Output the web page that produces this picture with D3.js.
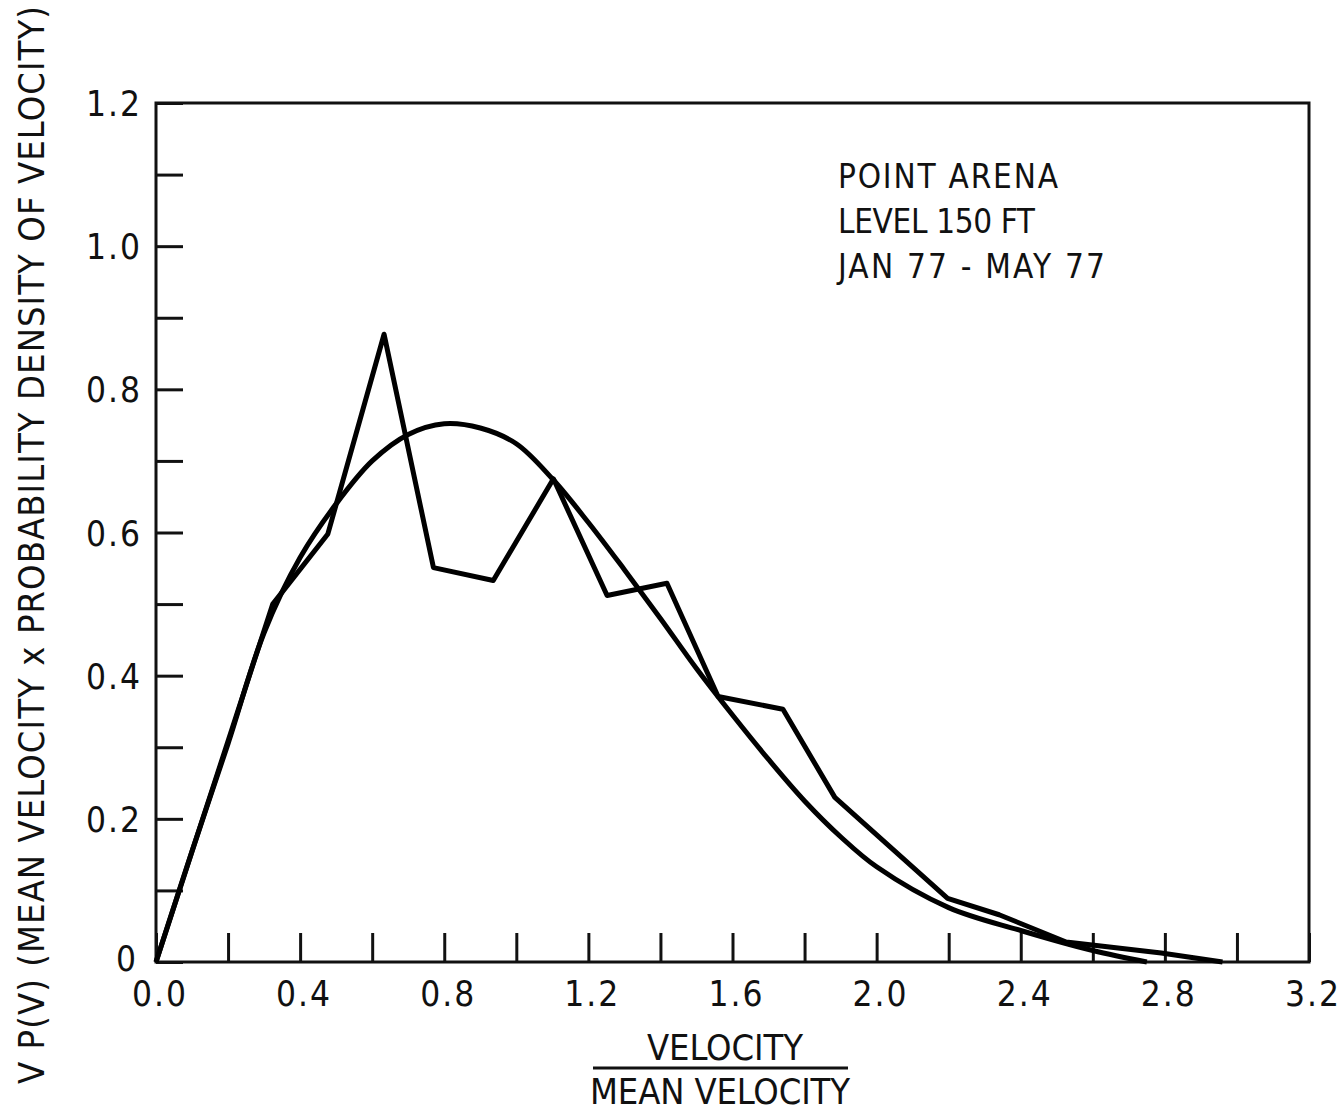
<!DOCTYPE html>
<html>
<head>
<meta charset="utf-8">
<script src="https://cdn.jsdelivr.net/npm/d3@7"></script>
<style>
  body { margin: 0; background: #fff; }
  svg text { font-family: "DejaVu Sans Condensed", "DejaVu Sans", sans-serif; fill: #111; }
</style>
</head>
<body>
<div id="svgContainer"></div>
<script>
// measured distribution (velocity / mean velocity, V P(V))
var obsX = [0, 0.324, 0.477, 0.633, 0.77, 0.936, 1.103, 1.252, 1.418, 1.56, 1.74, 1.884, 2.197, 2.34, 2.526, 2.79, 2.96]
var obsY = [0, 0.50, 0.598, 0.877, 0.551, 0.533, 0.675, 0.512, 0.529, 0.371, 0.353, 0.23, 0.089, 0.066, 0.028, 0.0125, 0]

// fitted curve
var fitX = [0, 0.1, 0.2, 0.3, 0.4, 0.5, 0.6, 0.7, 0.8, 0.9, 1.0, 1.1, 1.2, 1.3, 1.4, 1.5, 1.6, 1.7, 1.8, 1.9, 2.0, 2.2, 2.4, 2.6, 2.75]
var fitY = [0, 0.155, 0.305, 0.46, 0.565, 0.64, 0.70, 0.737, 0.752, 0.746, 0.724, 0.675, 0.614, 0.548, 0.48, 0.41, 0.345, 0.283, 0.225, 0.175, 0.133, 0.076, 0.044, 0.016, 0]

var xTickLabels = ["0.0", "0.4", "0.8", "1.2", "1.6", "2.0", "2.4", "2.8", "3.2"]
var yTickLabels = ["0", "0.2", "0.4", "0.6", "0.8", "1.0", "1.2"]
var noteLines = ["POINT ARENA", "LEVEL 150 FT", "JAN 77 - MAY 77"]
var noteWidths = [220, 197, 267]

function drawChart() {
    let width = 1344, height = 1112;
    var margin = { top: 103, right: 35, bottom: 150, left: 156 },
        margin_width = width - margin.left - margin.right,
        margin_height = height - margin.top - margin.bottom;

    var svg = d3.select("#svgContainer")
        .append("svg")
        .attr("width", width)
        .attr("height", height)
        .append("g")
        .attr("transform", `translate(${margin.left},${margin.top})`);

    var xScale = d3.scaleLinear().domain([0, 3.2]).range([0, margin_width]);
    var yScale = d3.scaleLinear().domain([0, 1.2]).range([margin_height, 0]);

    // frame
    svg.append("rect")
        .attr("width", margin_width)
        .attr("height", margin_height)
        .attr("fill", "none")
        .attr("stroke", "#111")
        .attr("stroke-width", 3);

    // inward ticks every 0.2 on x, every 0.1 on y
    svg.append("g")
        .attr("class", "axis axis-x")
        .attr("transform", "translate(0," + margin_height + ")")
        .call(d3.axisTop(xScale).tickValues(d3.range(0, 3.21, 0.2)).tickSize(29).tickFormat(""));
    svg.append("g")
        .attr("class", "axis axis-y")
        .call(d3.axisRight(yScale).tickValues(d3.range(0, 1.21, 0.1)).tickSize(27).tickFormat(""));
    svg.selectAll(".axis .domain").remove();
    svg.selectAll(".axis line").attr("stroke", "#111").attr("stroke-width", 3);

    // tick labels
    svg.selectAll(".xlab")
        .data(xTickLabels)
        .enter().append("text")
        .attr("class", "xlab")
        .attr("x", d => xScale(+d) + 4)
        .attr("y", margin_height + 44)
        .attr("text-anchor", "middle")
        .style("font-size", "35px")
        .style("letter-spacing", "2px")
        .text(d => d);
    svg.selectAll(".ylab")
        .data(yTickLabels)
        .enter().append("text")
        .attr("class", "ylab")
        .attr("x", d => d == "0" ? -18 : -14)
        .attr("y", d => yScale(+d) + (d == "0" ? 9 : 13))
        .attr("text-anchor", "end")
        .style("font-size", "35px")
        .style("letter-spacing", "2px")
        .text(d => d);

    // curves
    svg.append("path")
        .attr("fill", "none")
        .attr("stroke", "#000")
        .attr("stroke-width", 5)
        .attr("d", d3.line()
            .x(d => xScale(d[0]))
            .y(d => yScale(d[1]))
            .curve(d3.curveCatmullRom)(d3.zip(fitX, fitY)));
    svg.append("path")
        .attr("fill", "none")
        .attr("stroke", "#000")
        .attr("stroke-width", 5)
        .attr("stroke-linejoin", "round")
        .attr("d", d3.line()
            .x(d => xScale(d[0]))
            .y(d => yScale(d[1]))(d3.zip(obsX, obsY)));

    // note
    svg.selectAll(".note")
        .data(noteLines)
        .enter().append("text")
        .attr("class", "note")
        .attr("x", 682)
        .attr("y", (d, i) => 85 + i * 45)
        .attr("textLength", (d, i) => noteWidths[i])
        .style("font-size", "33px")
        .text(d => d);

    // axis titles
    svg.append("text")
        .attr("x", 569)
        .attr("y", margin_height + 98)
        .attr("text-anchor", "middle")
        .attr("textLength", 156)
        .style("font-size", "36px")
        .text("VELOCITY");
    svg.append("line")
        .attr("x1", 437).attr("x2", 692)
        .attr("y1", margin_height + 106).attr("y2", margin_height + 106)
        .attr("stroke", "#111").attr("stroke-width", 3);
    svg.append("text")
        .attr("x", 564)
        .attr("y", margin_height + 142)
        .attr("text-anchor", "middle")
        .attr("textLength", 260)
        .style("font-size", "36px")
        .text("MEAN VELOCITY");
    svg.append("text")
        .attr("transform", "rotate(-90)")
        .attr("x", -(545 - margin.top))
        .attr("y", 44 - margin.left)
        .attr("text-anchor", "middle")
        .attr("textLength", 1078)
        .style("font-size", "36px")
        .text("V P(V) (MEAN VELOCITY x PROBABILITY DENSITY OF VELOCITY)");
}
drawChart();
</script>
</body>
</html>
